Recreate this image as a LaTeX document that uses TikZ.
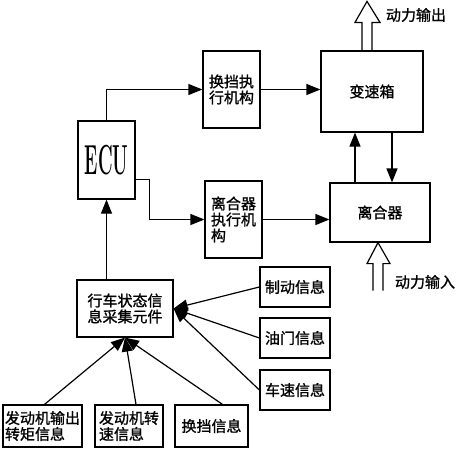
\documentclass[tikz,border=0pt]{standalone}
\usepackage{fontspec}
\usepackage{graphicx}
\newfontfamily\cjk[FakeBold=1.2]{Noto Sans CJK SC}
\usetikzlibrary{arrows.meta}
\tikzset{
	box/.style={draw, line width=1.2pt, inner sep=1pt, font=\cjk\fontsize{15}{16}\selectfont},
	info/.style={box, minimum width=70pt, minimum height=40pt},
	arr/.style={-{Triangle[length=14pt,width=11pt]}, line width=1.2pt},
}
\begin{document}
\begin{tikzpicture}[x=1pt, y=-1pt, line width=1.2pt]
	\useasboundingbox (0,0) rectangle (459,450);
	% control part
	\node[box, minimum width=57pt, minimum height=78pt] (ecu) at (106.5,160)
		{\rmfamily\bfseries\scalebox{0.45}[1.05]{\fontsize{40}{40}\selectfont ECU}};
	\node[box, minimum width=57pt, minimum height=77pt, align=left] (shift) at (231.5,89.5) {换挡执\\行机构};
	\node[box, minimum width=57pt, minimum height=77pt, align=left] (clutchact) at (233.5,219.5) {离合器\\执行机\\构};
	% driveline
	\node[box, minimum width=102pt, minimum height=81pt] (gearbox) at (372,91.5) {变速箱};
	\node[box, minimum width=100pt, minimum height=59pt] (clutch) at (380,212.5) {离合器};
	% sensors
	\node[box, minimum width=96pt, minimum height=57pt, align=center] (collect) at (125,308.5) {行车状态信\\息采集元件};
	\node[info] (brake) at (295,287) {制动信息};
	\node[info] (throttle) at (295,338) {油门信息};
	\node[info] (speed) at (295,390) {车速信息};
	\node[box, minimum width=79pt, minimum height=42pt, align=left] (torque) at (42.5,426) {发动机输出\\转矩信息};
	\node[box, minimum width=68pt, minimum height=42pt, align=left] (rpm) at (129,426) {发动机转\\速信息};
	\node[box, minimum width=73pt, minimum height=42pt] (gearinfo) at (211.5,426) {换挡信息};
	% connectors
	\draw[arr] (ecu.north) |- (shift.west);
	\draw[arr] ([yshift=20pt]ecu.south east) -- ++(14,0) |- (clutchact.west);
	\draw[arr] (shift.east) -- (shift.east -| gearbox.west);
	\draw[arr] (clutchact.east) -- (clutchact.east -| clutch.west);
	\draw[arr] ([xshift=-25pt]clutch.north) -- ([xshift=-25pt]clutch.north |- gearbox.south);
	\draw[arr] ([xshift=20pt]gearbox.south) -- ([xshift=20pt]gearbox.south |- clutch.north);
	\draw[arr] (collect.north -| ecu.south) -- (ecu.south);
	\foreach \s in {brake, throttle, speed}
		\draw[arr] (\s.west) -- (collect.east);
	\draw[arr] ([xshift=2pt]torque.north) -- (collect.south);
	\draw[arr] ([xshift=7pt]rpm.north) -- (collect.south);
	\draw[arr] ([xshift=11pt]gearinfo.north) -- (collect.south);
	% power flow
	\draw ([xshift=-10pt]gearbox.north) -- ++(0,-28) -- ++(-7,0) -- ++(12,-21) -- ++(13,21) -- ++(-8,0) -- ++(0,28);
	\node[font=\cjk\fontsize{15}{16}\selectfont] (pout) at (416,15) {动力输出};
	\draw ([xshift=-7pt]clutch.south) ++(0,48) -- ++(0,-27) -- ++(-6,0) -- ++(11,-21) -- ++(12,21) -- ++(-7,0) -- ++(0,27);
	\node[font=\cjk\fontsize{15}{16}\selectfont] (pin) at (425,282) {动力输入};
\end{tikzpicture}
\end{document}
